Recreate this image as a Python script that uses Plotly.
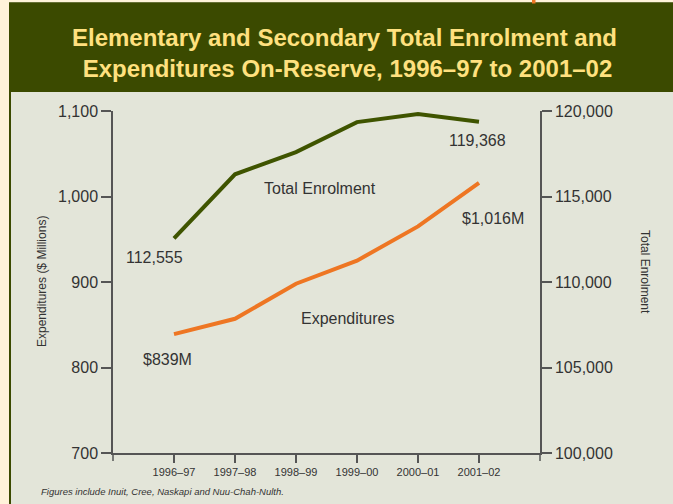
import plotly.graph_objects as go

years = ["1996–97", "1997–98", "1998–99", "1999–00", "2000–01", "2001–02"]
enrolment = [112555, 116300, 117600, 119350, 119820, 119368]
expenditures = [839, 857, 898, 925, 965, 1016]

W, H = 673, 504
L, R, T, B = 113, 540, 111, 453


def xp(px):
    return (px - L) / (R - L)


def yp(py):
    return (B - py) / (B - T)


FONT = "Liberation Sans, Arial, sans-serif"
TXT = "#333333"
AX = "#555555"
OLIVE = "#3B4A00"
GRAY = "#E3E5D9"
CREAM = "#FFF3DA"
ORANGE = "#EE7623"
GREEN = "#3F5400"

xs = list(range(1, len(years) + 1))

fig = go.Figure()
fig.add_trace(go.Scatter(x=xs, y=expenditures, mode="lines",
                         line=dict(color=ORANGE, width=4), yaxis="y",
                         showlegend=False, hoverinfo="skip"))
fig.add_trace(go.Scatter(x=xs, y=enrolment, mode="lines",
                         line=dict(color=GREEN, width=4), yaxis="y2",
                         showlegend=False, hoverinfo="skip"))

shapes = [
    dict(type="rect", xref="paper", yref="paper", x0=xp(0), x1=xp(9), y0=yp(H), y1=yp(0),
         fillcolor=CREAM, line_width=0, layer="below"),
    dict(type="rect", xref="paper", yref="paper", x0=xp(0), x1=xp(W), y0=yp(2.3), y1=yp(0),
         fillcolor=CREAM, line_width=0, layer="below"),
    dict(type="rect", xref="paper", yref="paper", x0=xp(9), x1=xp(W), y0=yp(92), y1=yp(2.3),
         fillcolor=OLIVE, line_width=0, layer="below"),
    dict(type="rect", xref="paper", yref="paper", x0=xp(9), x1=xp(11), y0=yp(H), y1=yp(92),
         fillcolor=OLIVE, line_width=0, layer="below"),
    dict(type="rect", xref="paper", yref="paper", x0=xp(532), x1=xp(535.5), y0=yp(3.5), y1=yp(0),
         fillcolor=ORANGE, line_width=0, layer="above"),
    dict(type="line", xref="paper", yref="paper", x0=0, x1=0, y0=yp(B + 8), y1=0,
         line=dict(color=AX, width=1.5)),
    dict(type="line", xref="paper", yref="paper", x0=1, x1=1, y0=yp(B + 8), y1=0,
         line=dict(color=AX, width=1.5)),
]


def ann(text, px, py, size=16, angle=0, xanchor="center", italic=False, bold=False, color=TXT):
    return dict(text=text, xref="paper", yref="paper", x=xp(px), y=yp(py),
                xanchor=xanchor, yanchor="middle", textangle=angle, showarrow=False,
                font=dict(family=FONT, size=size, color=color,
                          weight="bold" if bold else "normal",
                          style="italic" if italic else "normal"))


annotations = [
    ann("Elementary and Secondary Total Enrolment and", 344, 37, size=24, bold=True, color="#FFE17F"),
    ann(" Expenditures On-Reserve, 1996–97 to 2001–02", 344, 68, size=24, bold=True, color="#FFE17F"),
    ann(f"{enrolment[0]:,}", 154, 257),
    ann(f"{enrolment[-1]:,}", 477, 140),
    ann("Total Enrolment", 320, 188),
    ann(f"${expenditures[-1]:,}M", 493, 218),
    ann("Expenditures", 347, 318),
    ann(f"${expenditures[0]:,}M", 167, 359),
    ann("Expenditures ($ Millions)", 42, 282, size=12, angle=-90),
    ann("Total Enrolment", 645, 272, size=12, angle=90),
    ann("Figures include Inuit, Cree, Naskapi and Nuu-Chah-Nulth.", 39, 492, size=9.5,
        xanchor="left", italic=True),
]

fig.update_layout(
    width=W, height=H,
    margin=dict(l=L, r=W - R, t=T, b=H - B, pad=0),
    paper_bgcolor=GRAY, plot_bgcolor=GRAY,
    shapes=shapes, annotations=annotations,
    xaxis=dict(range=[0, len(years) + 1], tickvals=xs, ticktext=years,
               ticks="outside", ticklen=8, tickcolor=AX, tickwidth=1.5,
               showline=True, linecolor=AX, linewidth=1.5,
               showgrid=False, zeroline=False,
               tickfont=dict(family=FONT, size=11, color=TXT)),
    yaxis=dict(range=[700, 1100], tickvals=[700, 800, 900, 1000, 1100], tickformat=",",
               ticks="outside", ticklen=10, tickcolor=AX, tickwidth=1.5,
               showline=True, linecolor=AX, linewidth=1.5,
               showgrid=False, zeroline=False,
               tickfont=dict(family=FONT, size=16, color=TXT)),
    yaxis2=dict(range=[100000, 120000], tickvals=[100000, 105000, 110000, 115000, 120000],
                tickformat=",", overlaying="y", side="right",
                ticks="outside", ticklen=10, tickcolor=AX, tickwidth=1.5,
                showline=True, linecolor=AX, linewidth=1.5,
                showgrid=False, zeroline=False,
                tickfont=dict(family=FONT, size=16, color=TXT)),
)

fig.write_html("out.html")
